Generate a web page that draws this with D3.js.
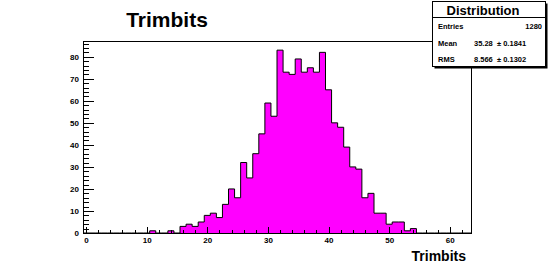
<!DOCTYPE html>
<html>
<head>
<meta charset="utf-8">
<script src="https://cdn.jsdelivr.net/npm/d3@7"></script>
<style>
  body { margin: 0; background: #fff; }
  text { font-family: "Liberation Sans", Arial, sans-serif; font-weight: bold; }
</style>
</head>
<body>
<div id="container"></div>
<script>
let w = 554;
let h = 275;

// histogram: 64 bins of width 1, centred on 0..63
let binLow = -0.5;
let binHigh = 63.5;
let counts = [
  0, 0, 0, 0, 0, 0, 0, 0, 0, 0,
  0, 1, 0, 0, 1, 0, 3, 4, 3, 5,
  8, 9, 7, 13, 20, 16, 32, 25, 36, 45,
  59, 53, 83, 73, 72, 79, 73, 75, 73, 82,
  65, 50, 48, 39, 30, 29, 16, 18, 9, 9,
  4, 5, 5, 1, 2, 0, 0, 0, 0, 0,
  0, 0, 0, 0
];
let xTicks = [0, 10, 20, 30, 40, 50, 60];
let yTicks = [0, 10, 20, 30, 40, 50, 60, 70, 80];

let statNames = ["Entries", "Mean", "RMS"];
let statValues = ["1280", "35.28", "8.566"];
let statErrors = ["", "\u00b1 0.1841", "\u00b1 0.1302"];

let frame = {left: 83, top: 41, right: 471, bottom: 233};

let viz = d3.select("#container")
  .append("svg")
    .attr("width", w)
    .attr("height", h)
    .style("background-color", "#ffffff");

let x = d3.scaleLinear().domain([binLow, binHigh]).range([frame.left, frame.right]);
let y = d3.scaleLinear().domain([0, d3.max(counts) * 1.05]).range([frame.bottom, frame.top]);

// step points along bin edges
let pts = [];
counts.forEach(function(c, i){
  pts.push([binLow + i, c]);
});
pts.push([binHigh, counts[counts.length - 1]]);

let area = d3.area()
  .x(d => x(d[0]))
  .y0(y(0))
  .y1(d => y(d[1]))
  .curve(d3.curveStepAfter);

let line = d3.line()
  .x(d => x(d[0]))
  .y(d => y(d[1]))
  .curve(d3.curveStepAfter);

viz.append("path")
  .attr("d", area(pts))
  .attr("fill", "#ff00ff");

viz.append("path")
  .attr("d", line(pts))
  .attr("fill", "none")
  .attr("stroke", "#000")
  .attr("stroke-width", 1);

// axes: ticks drawn inside the frame
let minorX = d3.range(0, 64, 2).filter(v => v % 10 != 0);
let minorY = d3.range(0, 88, 2).filter(v => v % 10 != 0);

viz.append("g")
  .attr("transform", "translate(0," + frame.bottom + ")")
  .call(d3.axisBottom(x).tickValues(minorX).tickSize(-3).tickFormat(""))
  .call(g => g.select(".domain").remove());

viz.append("g")
  .attr("transform", "translate(0," + frame.bottom + ")")
  .call(d3.axisBottom(x).tickValues(xTicks).tickSize(-6).tickPadding(4))
  .call(g => g.select(".domain").remove())
  .selectAll("text")
    .attr("font-size", 8)
    .attr("font-family", "Liberation Sans, Arial, sans-serif")
    .attr("font-weight", "bold");

viz.append("g")
  .attr("transform", "translate(" + frame.left + ",0)")
  .call(d3.axisLeft(y).tickValues(minorY).tickSize(-5.5).tickFormat(""))
  .call(g => g.select(".domain").remove());

viz.append("g")
  .attr("transform", "translate(" + frame.left + ",0)")
  .call(d3.axisLeft(y).tickValues(yTicks).tickSize(-11).tickPadding(4))
  .call(g => g.select(".domain").remove())
  .selectAll("text")
    .attr("font-size", 8)
    .attr("font-family", "Liberation Sans, Arial, sans-serif")
    .attr("font-weight", "bold");

viz.selectAll(".tick line").attr("stroke", "#000").attr("shape-rendering", "crispEdges");

// frame
viz.append("rect")
  .attr("x", frame.left + 0.5)
  .attr("y", frame.top + 0.5)
  .attr("width", frame.right - frame.left)
  .attr("height", frame.bottom - frame.top)
  .attr("fill", "none")
  .attr("stroke", "#000")
  .attr("stroke-width", 1);

// title
viz.append("text")
  .attr("x", 167)
  .attr("y", 27)
  .attr("text-anchor", "middle")
  .attr("font-size", 21)
  .attr("fill", "#000")
  .text("Trimbits");

// x axis title
viz.append("text")
  .attr("x", 466)
  .attr("y", 261)
  .attr("text-anchor", "end")
  .attr("font-size", 14)
  .attr("fill", "#000")
  .text("Trimbits");

// stats box with shadow
let box = {x: 432.5, y: 1.5, w: 113, h: 65};
viz.append("rect")
  .attr("x", box.x + 2)
  .attr("y", box.y + 2)
  .attr("width", box.w)
  .attr("height", box.h)
  .attr("fill", "#000");
viz.append("rect")
  .attr("x", box.x)
  .attr("y", box.y)
  .attr("width", box.w)
  .attr("height", box.h)
  .attr("fill", "#fff")
  .attr("stroke", "#000");
viz.append("line")
  .attr("x1", box.x)
  .attr("x2", box.x + box.w)
  .attr("y1", 17.5)
  .attr("y2", 17.5)
  .attr("stroke", "#000");

viz.append("text")
  .attr("x", 483)
  .attr("y", 14.5)
  .attr("text-anchor", "middle")
  .attr("font-size", 13)
  .attr("fill", "#000")
  .text("Distribution");

let rowY = [29, 45.5, 62];
statNames.forEach(function(s, i){
  viz.append("text")
    .attr("x", 438)
    .attr("y", rowY[i])
    .attr("font-size", 7.5)
    .attr("fill", "#000")
    .text(s);
  if (i == 0) {
    viz.append("text")
      .attr("x", 542)
      .attr("y", rowY[i])
      .attr("text-anchor", "end")
      .attr("font-size", 7.5)
      .attr("fill", "#000")
      .text(statValues[i]);
  } else {
    viz.append("text")
      .attr("x", 474)
      .attr("y", rowY[i])
      .attr("font-size", 7.5)
      .attr("fill", "#000")
      .text(statValues[i]);
    viz.append("text")
      .attr("x", 497)
      .attr("y", rowY[i])
      .attr("font-size", 7.5)
      .attr("fill", "#000")
      .text(statErrors[i]);
  }
});
</script>
</body>
</html>
